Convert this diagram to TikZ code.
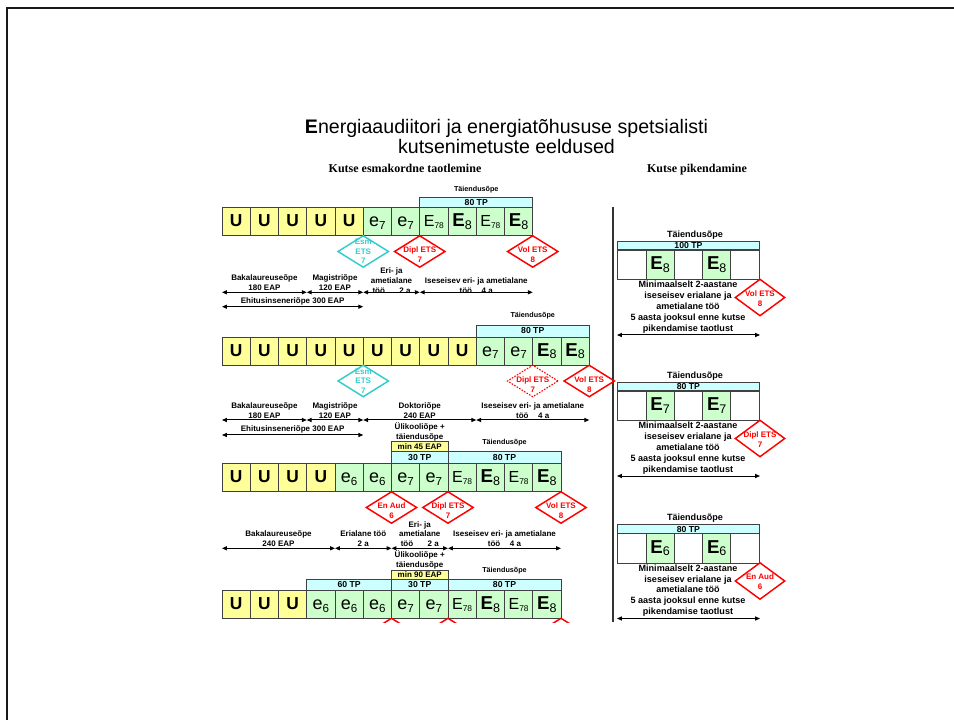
\documentclass[tikz,border=0pt]{standalone}
\usepackage{fontspec}
\setmainfont{Liberation Sans}
\newfontfamily\serifbf{Liberation Serif}
\usetikzlibrary{arrows.meta,shapes.geometric}
\definecolor{yel}{HTML}{FFFF99}
\definecolor{grn}{HTML}{CCFFCC}
\definecolor{cyn}{HTML}{CCFFFF}
\definecolor{wht}{HTML}{FFFFFF}
\definecolor{esmc}{HTML}{33CCCC}
\definecolor{redc}{HTML}{FF0000}
\newcommand{\cellU}{{\fontsize{13}{13}\selectfont\bfseries U}}
\newcommand{\celle}[1]{{\fontsize{13.5}{13.5}\selectfont e}\raisebox{-2pt}{\fontsize{8.7}{8.7}\selectfont #1}}
\newcommand{\cellE}[1]{{\fontsize{14}{14}\selectfont\bfseries E}\raisebox{-2pt}{\fontsize{9.4}{9.4}\selectfont #1}}
\newcommand{\cellEs}{{\fontsize{12}{12}\selectfont E}\raisebox{-1.5pt}{\fontsize{6.3}{6.3}\selectfont 78}}
\begin{document}
\begin{tikzpicture}[x=0.75pt,y=-0.75pt,
 cell/.style={draw=black!75, line width=0.7pt, minimum width=21.19pt, minimum height=21pt, inner sep=0pt, text height=8pt, text depth=0pt},
 rcell/.style={cell, minimum width=21.2pt, minimum height=22.1pt},
 bar/.style={draw=black!75, line width=0.7pt, fill=cyn, inner sep=0pt, font=\fontsize{6.5}{6.5}\selectfont\bfseries},
 lab/.style={font=\fontsize{6}{7.2}\selectfont\bfseries, align=center, inner sep=0pt},
 tlab/.style={font=\fontsize{5.4}{6}\selectfont\bfseries, inner sep=0pt},
 dia/.style={shape=diamond, draw=redc, line width=1.1pt, inner sep=0pt, minimum width=38.25pt, minimum height=24pt},
 rdia/.style={dia, minimum width=37.5pt, minimum height=27.75pt},
 esm/.style={dia, draw=esmc},
 dotdia/.style={dia, line width=0.8pt, dash pattern=on 1.2pt off 1pt},
 dtext/.style={font=\fontsize{6}{7.6}\selectfont\bfseries, align=center, inner sep=0pt, text=redc},
 dlow/.style={dtext, yshift=-2.6pt},
 dimarr/.style={{Triangle[length=3.6pt,width=3pt]}-{Triangle[length=3.6pt,width=3pt]}, line width=0.75pt},
 rtext/.style={font=\fontsize{6.8}{8.1}\selectfont\bfseries, align=center, inner sep=0pt}
]
\useasboundingbox (0,0) rectangle (954,720);
% frame
\draw[line width=2pt, black!90] (7,720) -- (7,8) -- (954,8);
% titles
\node[anchor=base, font=\fontsize{14.7}{15}\selectfont, inner sep=0pt] (title1) at (506.5,134) {{\bfseries E}nergiaaudiitori ja energiatõhususe spetsialisti};
\node[anchor=base, font=\fontsize{14.7}{15}\selectfont, inner sep=0pt] (title2) at (506.5,154) {kutsenimetuste eeldused};
\node[anchor=base, font=\serifbf\bfseries\fontsize{9}{9}\selectfont, inner sep=0pt] (head1) at (405,173) {Kutse esmakordne taotlemine};
\node[anchor=base, font=\serifbf\bfseries\fontsize{9}{9}\selectfont, inner sep=0pt] (head2) at (697,173) {Kutse pikendamine};
% divider
\draw[line width=1pt, black!80] (613,207) -- (613,622);

% ================= Row 1
\foreach \cnt/\col [count=\i] in {\cellU/yel,\cellU/yel,\cellU/yel,\cellU/yel,\cellU/yel,{\celle{7}}/grn,{\celle{7}}/grn,\cellEs/grn,{\cellE{8}}/grn,\cellEs/grn,{\cellE{8}}/grn}
  \node[cell,fill=\col] (ra\i) at ({222+(\i-0.5)*28.25},221.5) {\cnt};
\node[bar, minimum width=84.75pt, minimum height=7.9pt] (rabar) at (476.25,202.25) {80 TP};
\node[tlab] (rahd) at (476.25,189.5) {Täiendusõpe};
\node[esm] (rad1) at (363.25,251.5) {};
\node[dtext, text=esmc, font=\fontsize{6}{7}\selectfont\bfseries] (rat1) at (rad1) {Esm\\ETS\\7};
\node[dia] (rad2) at (419.75,251.5) {};
\node[dlow] (rat2) at (rad2) {Dipl ETS\\7};
\node[dia] (rad3) at (532.75,251.5) {};
\node[dlow] (rat3) at (rad3) {Vol ETS\\8};
\foreach \k in {0,3,5,7,11} \coordinate (A\k) at ({222+\k*28.25},292.3);
\coordinate (AB0) at (222,306.7);
\coordinate (AB5) at (363.25,306.7);
\draw[dimarr] (A0) -- (A3);
\draw[dimarr] (A3) -- (A5);
\draw[dimarr] (A5) -- (A7);
\draw[dimarr] (A7) -- (A11);
\draw[dimarr] (AB0) -- (AB5);
\node[lab, anchor=south] (ral1) at (264.4,290.5) {Bakalaureuseõpe\\180 EAP};
\node[lab, anchor=south] (ral2) at (335,290.5) {Magistriõpe\\120 EAP};
\node[lab, anchor=south] (ral3) at (391.5,293.5) {Eri- ja\\ametialane\\töö\hspace{1.8em}2 a};
\node[lab, anchor=south] (ral4) at (476.25,293.5) {Iseseisev eri- ja ametialane\\töö\hspace{1.2em}4 a};
\node[lab, anchor=south] (ral5) at (292.6,305.2) {Ehitusinseneriõpe 300 EAP};

% ================= Row 2
\foreach \cnt/\col [count=\i] in {\cellU/yel,\cellU/yel,\cellU/yel,\cellU/yel,\cellU/yel,\cellU/yel,\cellU/yel,\cellU/yel,\cellU/yel,{\celle{7}}/grn,{\celle{7}}/grn,{\cellE{8}}/grn,{\cellE{8}}/grn}
  \node[cell,fill=\col] (rb\i) at ({222+(\i-0.5)*28.25},351) {\cnt};
\node[bar, minimum width=84.75pt, minimum height=9pt] (rbbar) at (532.75,331) {80 TP};
\node[tlab] (rbhd) at (532.75,316) {Täiendusõpe};
\node[esm] (rbd1) at (363.25,381) {};
\node[dtext, text=esmc, font=\fontsize{6}{7}\selectfont\bfseries] (rbt1) at (rbd1) {Esm\\ETS\\7};
\node[dotdia] (rbd2) at (532.75,381) {};
\node[dlow] (rbt2) at (rbd2) {Dipl ETS\\7};
\node[dia] (rbd3) at (589.25,381) {};
\node[dlow] (rbt3) at (rbd3) {Vol ETS\\8};
\foreach \k in {0,3,5,9,13} \coordinate (B\k) at ({222+\k*28.25},420);
\coordinate (BB0) at (222,435);
\coordinate (BB5) at (363.25,435);
\draw[dimarr] (B0) -- (B3);
\draw[dimarr] (B3) -- (B5);
\draw[dimarr] (B5) -- (B9);
\draw[dimarr] (B9) -- (B13);
\draw[dimarr] (BB0) -- (BB5);
\node[lab, anchor=south] (rbl1) at (264.4,418.5) {Bakalaureuseõpe\\180 EAP};
\node[lab, anchor=south] (rbl2) at (335,418.5) {Magistriõpe\\120 EAP};
\node[lab, anchor=south] (rbl3) at (419.75,418.5) {Doktoriõpe\\240 EAP};
\node[lab, anchor=south] (rbl4) at (532.75,418.5) {Iseseisev eri- ja ametialane\\töö\hspace{1.2em}4 a};
\node[lab, anchor=south] (rbl5) at (292.6,433.5) {Ehitusinseneriõpe 300 EAP};

% ================= Row 3
\foreach \cnt/\col [count=\i] in {\cellU/yel,\cellU/yel,\cellU/yel,\cellU/yel,{\celle{6}}/grn,{\celle{6}}/grn,{\celle{7}}/grn,{\celle{7}}/grn,\cellEs/grn,{\cellE{8}}/grn,\cellEs/grn,{\cellE{8}}/grn}
  \node[cell,fill=\col] (rc\i) at ({222+(\i-0.5)*28.25},477.5) {\cnt};
\node[bar, fill=yel, minimum width=42.375pt, minimum height=7.35pt, font=\fontsize{6}{6}\selectfont\bfseries] (rcmin) at (419.75,446.6) {min 45 EAP};
\node[bar, minimum width=42.375pt, minimum height=9pt] (rcb1) at (419.75,457.5) {30 TP};
\node[bar, minimum width=84.75pt, minimum height=9pt] (rcb2) at (504.5,457.5) {80 TP};
\node[tlab] (rchd) at (504.5,442.5) {Täiendusõpe};
\node[lab, anchor=south] (rcul) at (419.75,441) {Ülikooliõpe +\\täiendusõpe};
\node[dia] (rcd1) at (391.5,507.5) {};
\node[dlow] (rct1) at (rcd1) {En Aud\\6};
\node[dia] (rcd2) at (448,507.5) {};
\node[dlow] (rct2) at (rcd2) {Dipl ETS\\7};
\node[dia] (rcd3) at (561,507.5) {};
\node[dlow] (rct3) at (rcd3) {Vol ETS\\8};
\foreach \k in {0,4,6,8,12} \coordinate (C\k) at ({222+\k*28.25},548.3);
\draw[dimarr] (C0) -- (C4);
\draw[dimarr] (C4) -- (C6);
\draw[dimarr] (C6) -- (C8);
\draw[dimarr] (C8) -- (C12);
\node[lab, anchor=south] (rcl1) at (278.5,546.8) {Bakalaureuseõpe\\240 EAP};
\node[lab, anchor=south] (rcl2) at (363.25,546.8) {Erialane töö\\2 a};
\node[lab, anchor=south] (rcl3) at (419.75,546.8) {Eri- ja\\ametialane\\töö\hspace{1.8em}2 a};
\node[lab, anchor=south] (rcl4) at (504.5,546.8) {Iseseisev eri- ja ametialane\\töö\hspace{1.2em}4 a};

% ================= Row 4
\foreach \cnt/\col [count=\i] in {\cellU/yel,\cellU/yel,\cellU/yel,{\celle{6}}/grn,{\celle{6}}/grn,{\celle{6}}/grn,{\celle{7}}/grn,{\celle{7}}/grn,\cellEs/grn,{\cellE{8}}/grn,\cellEs/grn,{\cellE{8}}/grn}
  \node[cell,fill=\col] (rd\i) at ({222+(\i-0.5)*28.25},604) {\cnt};
\node[bar, fill=yel, minimum width=42.375pt, minimum height=6.75pt, font=\fontsize{6}{6}\selectfont\bfseries] (rdmin) at (419.75,574.5) {min 90 EAP};
\node[bar, minimum width=63.56pt, minimum height=8.25pt] (rdb0) at (349.125,584.5) {60 TP};
\node[bar, minimum width=42.375pt, minimum height=8.25pt] (rdb1) at (419.75,584.5) {30 TP};
\node[bar, minimum width=84.75pt, minimum height=8.25pt] (rdb2) at (504.5,584.5) {80 TP};
\node[tlab] (rdhd) at (504.5,571) {Täiendusõpe};
\node[lab, anchor=south] (rdul) at (419.75,569.5) {Ülikooliõpe +\\täiendusõpe};
\begin{scope}
\clip (0,0) rectangle (954,622);
\node[dia] (rdd1) at (391.5,634) {};
\node[dia] (rdd2) at (448,634) {};
\node[dia] (rdd3) at (561,634) {};
\end{scope}

% ================= Right column
\foreach \L/\tp/\sb/\dt/\nm in {235/100 TP/8/Vol ETS\\8/a, 376/80 TP/7/Dipl ETS\\7/b, 518.5/80 TP/6/En Aud\\6/c}{
  \node[font=\fontsize{6.8}{7}\selectfont\bfseries, inner sep=0pt] (q\nm hd) at (695,\L) {Täiendusõpe};
  \node[bar, minimum width=106.1pt, minimum height=6.5pt] (q\nm bar) at (688.45,\L+10.6) {\tp};
  \foreach \col [count=\i] in {wht,grn,wht,grn,wht}
    \node[rcell, fill=\col] (q\nm c\i) at ({617.7+(\i-0.5)*28.3},\L+29.75) {};
  \node (q\nm e1) at (q\nm c2) {\cellE{\sb}};
  \node (q\nm e2) at (q\nm c4) {\cellE{\sb}};
  \node[rtext, anchor=north] (q\nm tx) at (688,\L+46) {Minimaalselt 2-aastane\\iseseisev erialane ja\\ametialane töö\\5 aasta jooksul enne kutse\\pikendamise taotlust};
  \node[rdia] (q\nm d) at (760,\L+62.5) {};
  \node[dtext, yshift=-0.8pt] (q\nm dt) at (q\nm d) {\dt};
  \coordinate (q\nm l) at (617,\L+100);
  \coordinate (q\nm r) at (760,\L+100);
  \draw[dimarr] (q\nm l) -- (q\nm r);
}
\end{tikzpicture}
\end{document}
